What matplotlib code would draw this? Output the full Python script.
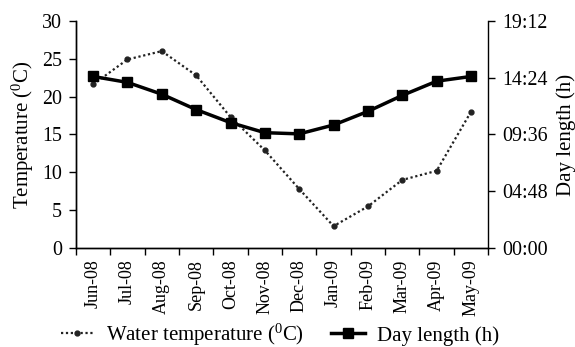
import matplotlib
matplotlib.use("Agg")
import matplotlib.pyplot as plt
from matplotlib.ticker import FixedLocator, FuncFormatter

plt.rcParams['font.family'] = ['Liberation Serif', 'DejaVu Serif']
plt.rcParams['mathtext.fontset'] = 'custom'
plt.rcParams['mathtext.rm'] = 'Liberation Serif'
plt.rcParams['mathtext.it'] = 'Liberation Serif'

months = ['Jun-08', 'Jul-08', 'Aug-08', 'Sep-08', 'Oct-08', 'Nov-08',
          'Dec-08', 'Jan-09', 'Feb-09', 'Mar-09', 'Apr-09', 'May-09']
water_temp = [21.6, 24.9, 26.0, 22.8, 17.3, 12.9, 7.8, 2.9, 5.5, 9.0, 10.2, 18.0]
day_length = [14.5, 14.0, 13.0, 11.7, 10.6, 9.75, 9.65, 10.4, 11.55, 12.9, 14.1, 14.5]
temp_ticks = [0, 5, 10, 15, 20, 25, 30]
hour_ticks = [0, 4.8, 9.6, 14.4, 19.2]

fig = plt.figure(figsize=(5.75, 3.47), dpi=100)
ax = fig.add_axes([0.132, 0.285, 0.717, 0.655])
ax2 = ax.twinx()

x = list(range(len(months)))
l1, = ax.plot(x, water_temp, linestyle=(0, (1, 1.2)), color='#222222', lw=1.6,
              marker='o', markersize=3.5, label='Water temperature ($^{0}$C)')
l2, = ax2.plot(x, day_length, linestyle='-', color='black', lw=2.5,
               marker='s', markersize=6.5, label='Day length (h)')

ax.set_xlim(-0.5, len(months) - 0.5)
ax.set_ylim(0, 30)
ax2.set_ylim(0, 19.2)

ax.xaxis.set_major_locator(FixedLocator([i - 0.5 for i in range(len(months) + 1)]))
ax.xaxis.set_major_formatter(FuncFormatter(lambda v, p: ''))
ax.xaxis.set_minor_locator(FixedLocator(x))
ax.set_xticklabels(months, minor=True, rotation=90, fontsize=13)
ax.tick_params(axis='x', which='major', direction='out', length=5, width=1)
ax.tick_params(axis='x', which='minor', length=0, pad=8)

ax.set_yticks(temp_ticks)
ax.tick_params(axis='y', direction='out', length=5, width=1, labelsize=14.4, pad=5)
ax2.set_yticks(hour_ticks)
ax2.yaxis.set_major_formatter(FuncFormatter(
    lambda v, p: '%02d:%02d' % (int(round(v * 60)) // 60, int(round(v * 60)) % 60)))
ax2.tick_params(axis='y', direction='out', length=5, width=1, labelsize=14.4, pad=5)

for a in (ax, ax2):
    a.spines['top'].set_visible(False)
    for s in a.spines.values():
        s.set_linewidth(1)
ax.spines['right'].set_visible(False)

ax.set_ylabel('Temperature ($^{0}$C)', fontsize=15, labelpad=4)
ax2.set_ylabel('Day length (h)', fontsize=15, labelpad=6)

fig.legend(handles=[l1, l2], loc='center', bbox_to_anchor=(0.487, 0.035), ncol=2,
           frameon=False, fontsize=15, handlelength=1.6, handletextpad=0.6,
           columnspacing=1.3, borderpad=0)

fig.savefig('out.png', dpi=100)
